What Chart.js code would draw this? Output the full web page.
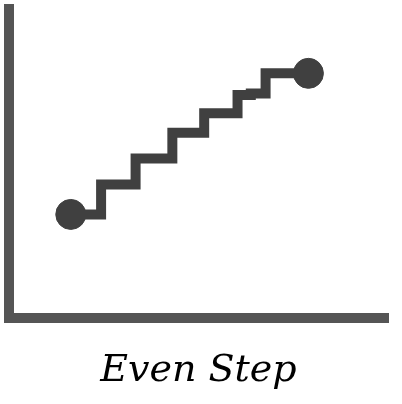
<!DOCTYPE html>
<html>
<head>
<meta charset="utf-8">
<script src="https://cdn.jsdelivr.net/npm/chart.js@4"></script>
<style>
  html, body { margin: 0; padding: 0; background: #fff; }
  #wrap { width: 402px; height: 404px; }
</style>
</head>
<body>
<div id="wrap"><canvas id="myChart"></canvas></div>
<script>
// step corners (axis units 0..10)
var xValues = [1.63, 2.43, 3.34, 4.31, 5.15, 6.03, 6.38, 6.77, 7.90];
var yValues = [3.36, 4.33, 5.17, 6.00, 6.63, 7.22, 7.27, 7.92, 7.92];
var titleText = 'Even Step';

var points = xValues.map(function (x, i) { return { x: x, y: yValues[i] }; });
// only the two ends get a dot
var radii = points.map(function (p, i) { return (i === 0 || i === points.length - 1) ? 15 : 0; });

var ctx = document.getElementById('myChart').getContext('2d');
var chart = new Chart(ctx, {
  type: 'line',
  data: {
    datasets: [{
      data: points,
      stepped: 'before',
      borderColor: '#404040',
      backgroundColor: '#404040',
      borderWidth: 10,
      pointRadius: radii,
      pointBorderWidth: 1,
      pointBackgroundColor: '#404040',
      pointBorderColor: '#404040',
      fill: false
    }]
  },
  options: {
    responsive: true,
    maintainAspectRatio: false,
    animation: false,
    events: [],
    layout: {
      autoPadding: false,
      padding: { left: 9, right: 14, top: 9, bottom: 0 }
    },
    scales: {
      x: {
        type: 'linear', min: 0, max: 10,
        ticks: { display: false },
        grid: { display: false, drawTicks: false },
        border: { display: true, width: 10, color: '#555555' }
      },
      y: {
        type: 'linear', min: 0, max: 10,
        ticks: { display: false },
        grid: { display: false, drawTicks: false },
        border: { display: true, width: 10, color: '#555555' }
      }
    },
    plugins: {
      legend: { display: false },
      tooltip: { enabled: false },
      title: {
        display: true,
        text: titleText,
        position: 'bottom',
        fullSize: false,
        color: '#000000',
        font: { family: '"DejaVu Serif"', style: 'italic', weight: 'normal', size: 38, lineHeight: 1.2 },
        padding: { top: 30, bottom: 10 }
      }
    }
  }
});
</script>
</body>
</html>
